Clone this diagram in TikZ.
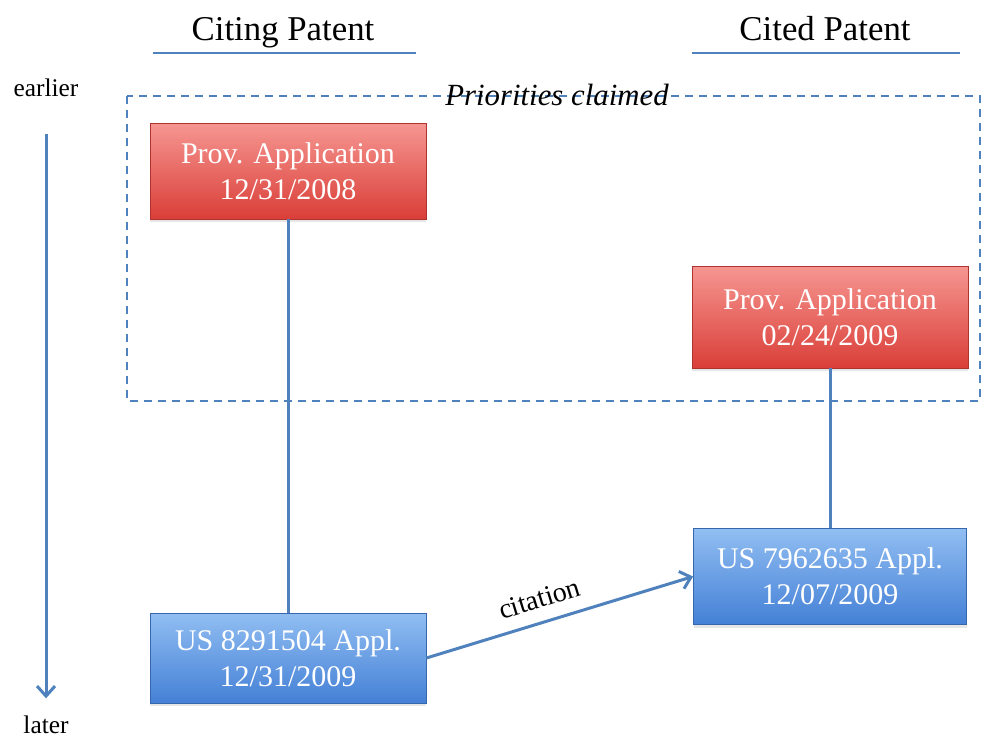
\documentclass[tikz,border=0pt]{standalone}
\usepackage{fontspec}
\setmainfont{Liberation Serif}
\usetikzlibrary{arrows.meta,shadows}

\definecolor{linkblue}{RGB}{79,129,189}
\definecolor{provtop}{RGB}{246,150,145}
\definecolor{provbot}{RGB}{218,62,56}
\definecolor{appltop}{RGB}{145,190,242}
\definecolor{applbot}{RGB}{68,128,214}

\begin{document}
\begin{tikzpicture}[x=0.5pt,y=-0.5pt,
    conn/.style={draw=linkblue, line width=1.5pt},
    tip/.style={-{Straight Barb[length=5pt,width=9pt]}},
    patbox/.style={minimum width=138pt, minimum height=48pt, align=center, text=white,
      font=\fontsize{15}{18}\selectfont,
      drop shadow={shadow xshift=0pt, shadow yshift=-1.5pt, opacity=0.2}},
    prov/.style={patbox, draw=provbot!80!black, top color=provtop, bottom color=provbot},
    appl/.style={patbox, draw=applbot!80!black, top color=appltop, bottom color=applbot},
    header/.style={anchor=base, font=\fontsize{17.4}{20}\selectfont},
    timelbl/.style={anchor=base, font=\fontsize{12.7}{15}\selectfont}]
\useasboundingbox (0,0) rectangle (982,739);

% column headers
\node[header] (citing) at (283,40) {Citing Patent};
\node[header] (cited) at (825,40) {Cited Patent};
\draw[linkblue, line width=1pt] (153,53) -- (416,53);
\draw[linkblue, line width=1pt] (692,53) -- (960,53);

% time axis
\node[timelbl] (earlier) at (46,97) {earlier};
\node[timelbl] (later) at (46,733) {later};
\coordinate (tstart) at (46,134);
\draw[conn,tip] (tstart) -- ([yshift=5pt]later.north);

% priority frame
\draw[linkblue, line width=0.7pt, dash pattern=on 4pt off 3pt] (127,96) rectangle (980,401);
\node[anchor=base, font=\itshape\fontsize{15.4}{18}\selectfont] (prio) at (557,105) {Priorities claimed};

% applications
\node[prov] (prov1) at (288,171) {Prov. Application\\12/31/2008};
\node[prov, minimum height=51pt] (prov2) at (830,317) {Prov. Application\\02/24/2009};
\node[appl, minimum height=45pt] (appl1) at (288,658) {US 8291504 Appl.\\12/31/2009};
\node[appl, minimum width=136.5pt] (appl2) at (830,576.5) {US 7962635 Appl.\\12/07/2009};

\draw[conn] (prov1) -- (appl1);
\draw[conn] (prov2) -- (appl2);
\draw[conn,tip] (appl1.east) -- node[pos=0.45, above=3pt, sloped, text=black,
  font=\fontsize{14}{16}\selectfont] {citation} (appl2.west);
\end{tikzpicture}
\end{document}
